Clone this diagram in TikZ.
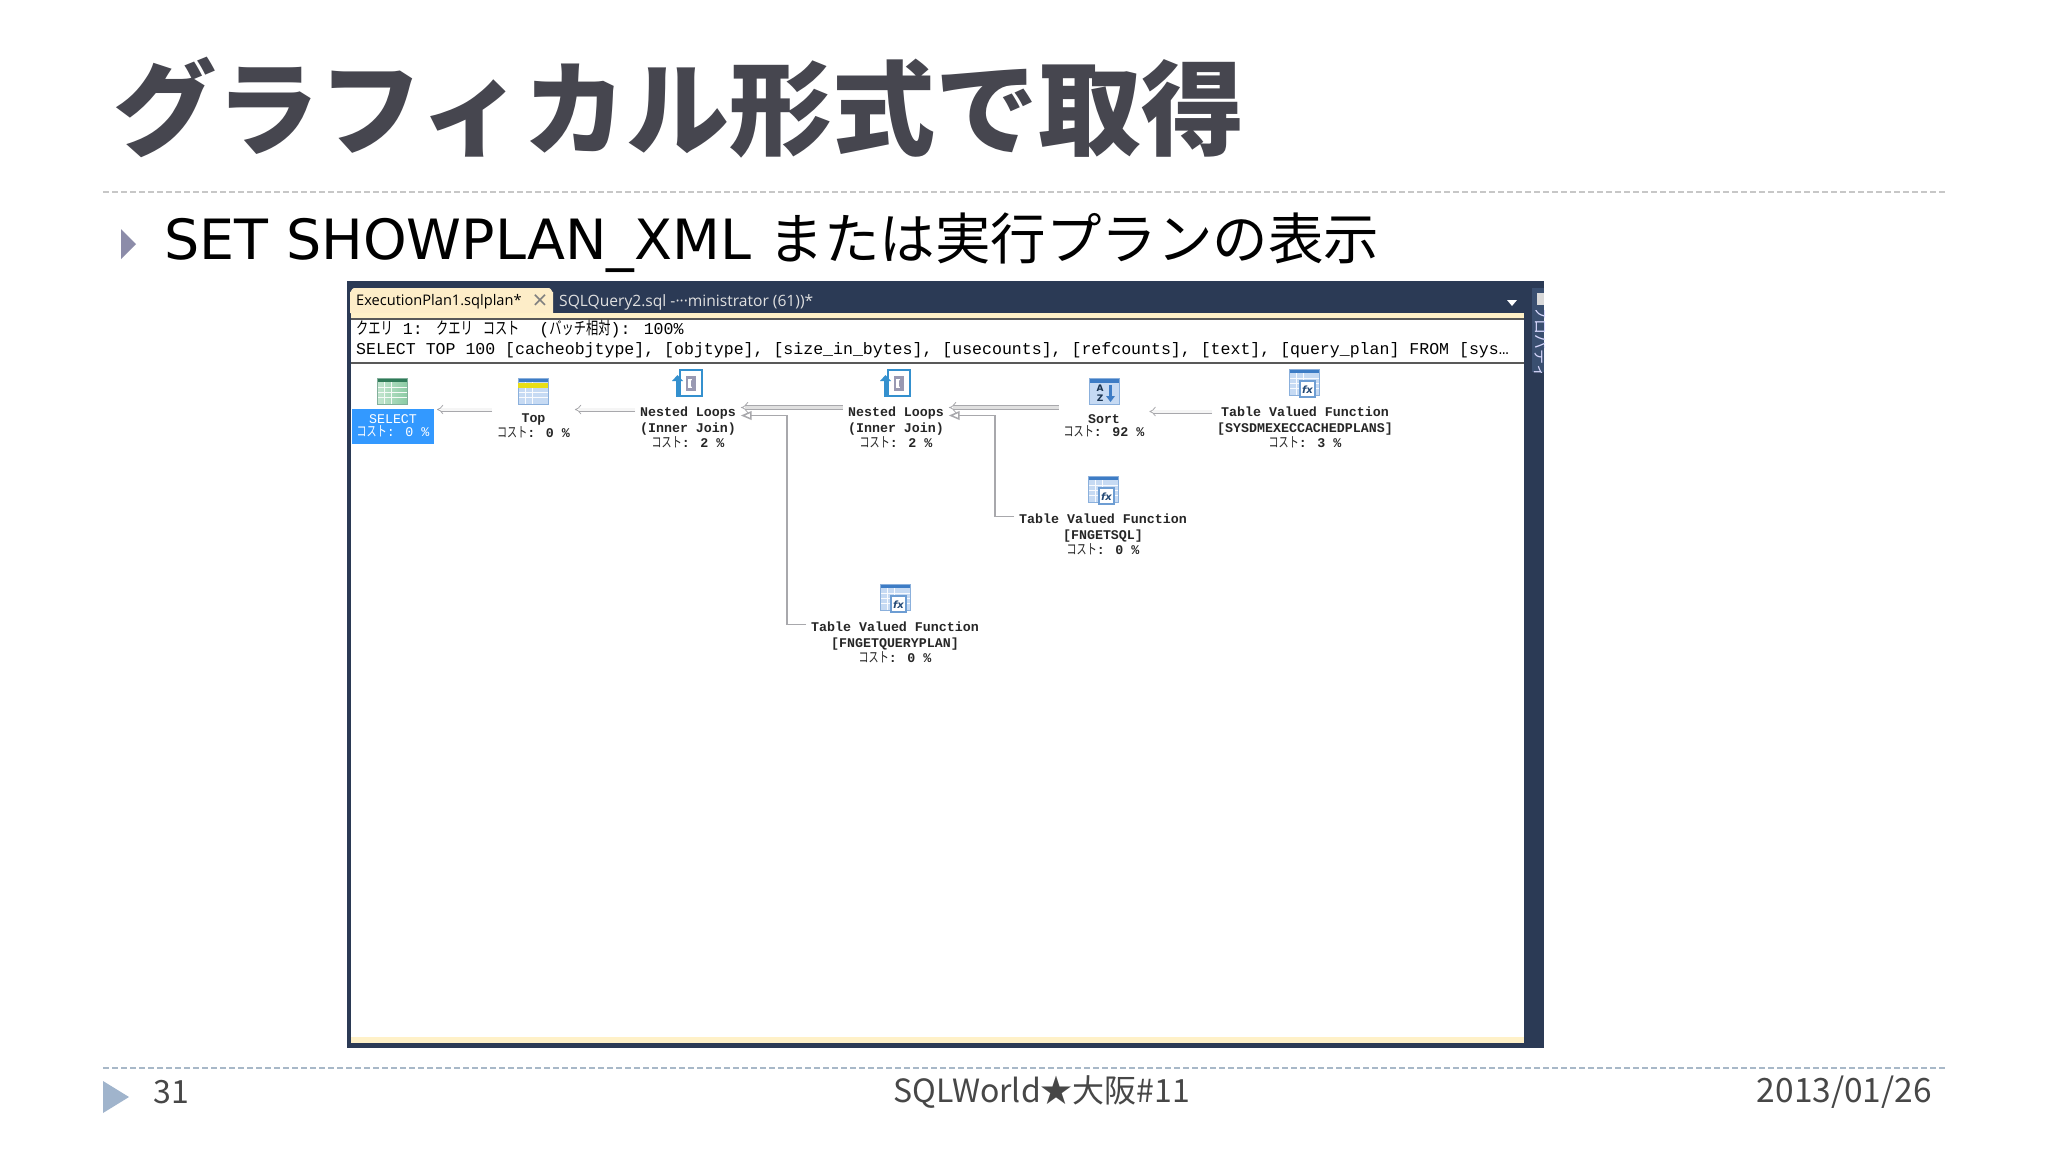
\documentclass[tikz,border=0pt]{standalone}
\usepackage{fontspec}
\usetikzlibrary{arrows}
\setmainfont{DejaVu Sans}
\newfontfamily\jpfamily{Noto Sans CJK JP}
\newfontfamily\jpthin[FakeStretch=0.72]{Noto Sans CJK JP}
\newfontfamily\planfamily{Liberation Mono}
\newfontfamily\tabfamily{Open Sans}
\definecolor{slidegray}{HTML}{46464F}
\definecolor{windownavy}{HTML}{2B3A55}
\definecolor{panelnavy}{HTML}{3A4F70}
\definecolor{tabcream}{HTML}{FDEDC8}
\definecolor{bandcream}{HTML}{FFF1C8}
\definecolor{iconblue}{HTML}{3D7CC5}
\definecolor{iconpale}{HTML}{C6DAF3}
\definecolor{greenhead}{HTML}{2F7A58}
\definecolor{greenpale}{HTML}{C4E6D0}
\definecolor{greendeep}{HTML}{8CCBA4}
\definecolor{selectblue}{HTML}{3399FF}
\definecolor{linkgray}{HTML}{A8A8AC}
\definecolor{footerblue}{HTML}{A0B4CC}
\definecolor{footerrule}{HTML}{A8B8C8}
\def\planfont{\planfamily\bfseries\fontsize{13.3}{13.5}\selectfont}
\def\costtext#1{{\jpthin\mdseries\fontsize{14}{13.5}\selectfont コスト}: #1 \%}
\def\jpquery#1{{\jpthin\fontsize{17}{17}\selectfont #1}}
\tikzset{
	planlabel/.style={font=\planfont, align=center, inner sep=1pt, outer sep=4pt, text=black!85},
	selectedlabel/.style={planlabel, font=\planfamily\fontsize{13.3}{13.5}\selectfont, fill=selectblue, text=white, minimum width=82pt, minimum height=35pt, outer sep=0pt},
	planarrow/.style={draw=linkgray, line width=0.8pt, double=black!4, double distance=2.4pt, -implies},
	widearrow/.style={planarrow, double=black!12, double distance=3pt},
	planlink/.style={draw=linkgray, line width=1.5pt, -open triangle 45},
	footertext/.style={font=\jpfamily\fontsize{32}{34}\selectfont, text=black!72, inner sep=0pt},
}
% x y, title bar colour, left and right body colours
\def\tableicon(#1,#2)#3#4#5{
	\begin{scope}[shift={(#1,#2)}]
		\fill[left color=#4, right color=#5] (-15,-13) rectangle (15,13);
		\fill[#3] (-15,-13) rectangle (15,-9);
		\foreach \rowy in {-4,1,6}
			\draw[white!90!#5, line width=0.8pt] (-15,\rowy) -- (15,\rowy);
		\foreach \coly in {-8,-1}
			\draw[white!90!#5, line width=0.8pt] (\coly,-9) -- (\coly,13);
		\draw[#3!60, line width=0.6pt] (-15,-13) rectangle (15,13);
	\end{scope}
}
\def\loopsicon(#1,#2){
	\begin{scope}[shift={(#1,#2)}]
		\draw[iconblue!85!cyan, fill=white, line width=2.5pt] (-9,-13) rectangle (13,13);
		\fill[iconblue!85!cyan] (-13,14) rectangle (-10,-2);
		\fill[iconblue!85!cyan] (-17,-2) -- (-11.5,-8) -- (-6,-2) -- cycle;
		\fill[blue!25!black!40!white] (-3,-7) rectangle (7,8);
		\fill[white] (-1,-4) rectangle (3,5);
		\fill[blue!25!black!40!white] (2,-3) -- (6,0.5) -- (2,4) -- cycle;
	\end{scope}
}
\def\fnicon(#1,#2)#3{
	\tableicon(#1,#2){iconblue}{iconpale}{iconpale}
	\begin{scope}[shift={(#1,#2)}]
		\draw[iconblue!75, fill=white, line width=1.2pt] (-4,-1) rectangle (11,15);
		\node[inner sep=0pt, text=iconblue!60!black, font=\bfseries\itshape\fontsize{10}{10}\selectfont] (#3) at (3.5,7.5) {fx};
	\end{scope}
}

\begin{document}
\begin{tikzpicture}[x=1pt, y=-1pt]
	\useasboundingbox (0,0) rectangle (2048,1152);
	\fill[white] (0,0) rectangle (2048,1152);

	%%%%% slide %%%%%
	\node[anchor=west, inner sep=0pt, text=slidegray, font=\jpfamily\bfseries\fontsize{103}{110}\selectfont] (slidetitle) at (113,108) {グラフィカル形式で取得};
	\draw[black!22, line width=1.5pt, dash pattern=on 6pt off 3pt] (103,192) -- (1947,192);

	\fill[blue!25!black!45!white] (121,229) -- (136,244) -- (121,259) -- cycle;
	\node[anchor=base west, inner sep=0pt, font=\fontsize{55.5}{60}\selectfont] (bullettext) at (164,259) {SET SHOWPLAN\_XML {\jpfamily\fontsize{55.5}{60}\selectfont または実行プランの表示}};

	%%%%% window %%%%%
	\fill[windownavy] (347,281) rectangle (1544,1048);
	\fill[panelnavy] (1532,288) rectangle (1544,372);
	\fill[black!15] (1537,293) rectangle (1544,305);
	\begin{scope}
		\clip (1530,310) rectangle (1544,372);
		\node[rotate=-90, text=white!85!blue, inner sep=0pt, font=\jpfamily\fontsize{15}{15}\selectfont] (proptab) at (1541,342) {プロパティ};
	\end{scope}

	\fill[tabcream] (350,313) -- (350,292) to[out=-90, in=180] (354,288) -- (549,288) to[out=0, in=-90] (553,292) -- (553,313) -- cycle;
	\node[anchor=west, inner sep=0pt, font=\tabfamily\fontsize{14.6}{16}\selectfont] (plantab) at (356,302) {ExecutionPlan1.sqlplan*};
	\node[inner sep=0pt, text=black!50, font=\tabfamily\fontsize{26}{26}\selectfont] (closetab) at (540,302) {×};
	\node[anchor=west, inner sep=0pt, text=black!12, font=\tabfamily\fontsize{15.6}{16}\selectfont] (querytab) at (559,302) {SQLQuery2.sql -···ministrator (61))*};
	\fill[white] (1507,300) -- (1517,300) -- (1512,306) -- cycle;

	\fill[white] (351,318) rectangle (1524,1043);
	\fill[bandcream] (351,313) rectangle (1524,318);
	\fill[bandcream] (351,1037) rectangle (1524,1043);
	\draw[black!65, line width=1.5pt] (351,319) -- (1524,319);
	\draw[black!65, line width=1.5pt] (351,363) -- (1524,363);

	\node[anchor=west, inner sep=0pt, font=\planfamily\fontsize{16.6}{17}\selectfont] (queryhead) at (356,329) {\jpquery{クエリ} 1: \jpquery{クエリ} \jpquery{コスト}\ \ (\jpquery{バッチ相対}): 100\%};
	\node[anchor=west, inner sep=0pt, font=\planfamily\fontsize{16.56}{17}\selectfont] (querytext) at (356,350) {SELECT TOP 100 [cacheobjtype], [objtype], [size\_in\_bytes], [usecounts], [refcounts], [text], [query\_plan] FROM [sys…};

	%%%%% plan %%%%%
	\tableicon(392,391){greenhead}{greenpale}{greendeep}
	\node[selectedlabel] (select) at (393,426) {SELECT\\\costtext{0}};

	\tableicon(533,391){iconblue}{iconpale}{iconpale}
	\fill[yellow!90!black] (518,383) rectangle (548,388);
	\node[planlabel] (top) at (533.5,426) {Top\\\costtext{0}};

	\loopsicon(689,383)
	\node[planlabel] (loopsa) at (688,427) {Nested Loops\\[3pt](Inner Join)\\\costtext{2}};

	\loopsicon(897,383)
	\node[planlabel] (loopsb) at (896,427) {Nested Loops\\[3pt](Inner Join)\\\costtext{2}};

	\fill[iconpale] (1089,378) rectangle (1119,404);
	\fill[iconblue] (1089,378) rectangle (1119,383);
	\draw[iconblue!60, line width=0.6pt] (1089,378) rectangle (1119,404);
	\node[inner sep=0pt, text=iconblue!40!black, font=\bfseries\fontsize{9}{9}\selectfont] (sorta) at (1100,388) {A};
	\node[inner sep=0pt, text=iconblue!40!black, font=\bfseries\fontsize{9}{9}\selectfont] (sortz) at (1100,398) {Z};
	\fill[iconblue] (1109,385) rectangle (1112,396);
	\fill[iconblue] (1106,396) -- (1115,396) -- (1110.5,402) -- cycle;
	\node[planlabel] (sort) at (1104,426) {Sort\\\costtext{92}};

	\fnicon(1304,382){fxa}
	\node[planlabel] (fnplans) at (1305,427) {Table Valued Function\\[3pt][SYSDMEXECCACHEDPLANS]\\\costtext{3}};

	\fnicon(1103,489){fxb}
	\node[planlabel] (fnsql) at (1103,534) {Table Valued Function\\[3pt][FNGETSQL]\\\costtext{0}};

	\fnicon(895,597){fxc}
	\node[planlabel] (fnquery) at (895,642) {Table Valued Function\\[3pt][FNGETQUERYPLAN]\\\costtext{0}};

	\draw[planarrow] ([yshift=-1pt]select.north east -| top.west) -- ([xshift=3pt,yshift=-1pt]select.north east);
	\draw[planarrow] ([yshift=-1pt]select.north east -| loopsa.west) -- ([yshift=-1pt]select.north east -| top.east);
	\draw[widearrow] ([yshift=1pt]select.north east -| loopsb.west) -- ([yshift=1pt]select.north east -| loopsa.east);
	\draw[widearrow] ([yshift=1pt]select.north east -| sort.west) -- ([yshift=1pt]select.north east -| loopsb.east);
	\draw[planarrow] ([yshift=-3pt]select.north east -| fnplans.west) -- ([yshift=-3pt]select.north east -| sort.east);

	\draw[planlink] ([yshift=-8pt]fnsql.north west) -- ++(-19,0) |- ([yshift=-7pt]select.north east -| loopsb.east);
	\draw[planlink] ([yshift=-8pt]fnquery.north west) -- ++(-19,0) |- ([yshift=-7pt]select.north east -| loopsa.east);

	%%%%% footer %%%%%
	\draw[footerrule, line width=1.5pt, dash pattern=on 6pt off 3pt] (103,1068) -- (1947,1068);
	\fill[footerblue] (103,1081) -- (129,1097) -- (103,1113) -- cycle;
	\node[footertext] (pagenum) at (171,1092) {31};
	\node[footertext] (eventname) at (1042,1092) {SQLWorld★大阪\#11};
	\node[footertext, anchor=east, font=\jpfamily\fontsize{33.5}{34}\selectfont] (slidedate) at (1932,1092) {2013/01/26};
\end{tikzpicture}
\end{document}
